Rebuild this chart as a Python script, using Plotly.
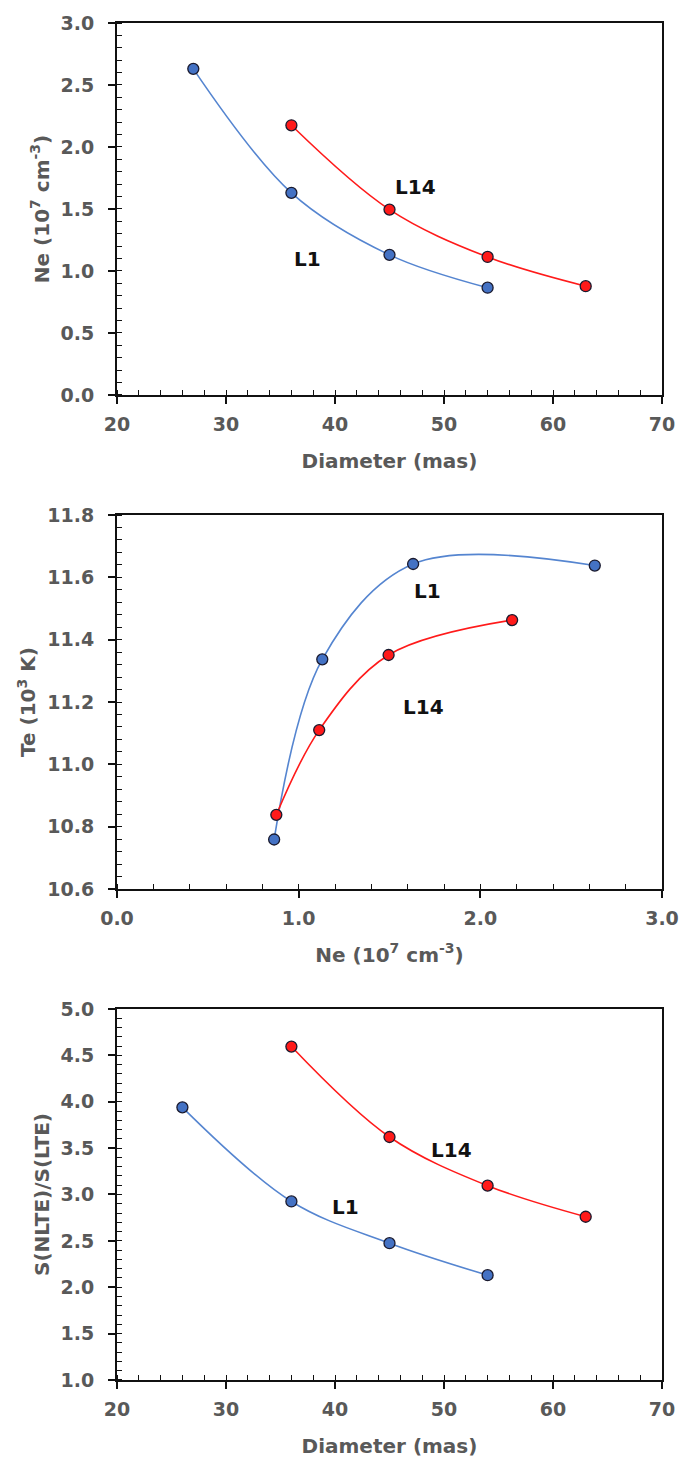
import plotly.graph_objects as go

# Panel 1: Ne vs diameter
diam_l1 = [27, 36, 45, 54]
ne_l1 = [2.63, 1.63, 1.13, 0.865]
diam_l14 = [36, 45, 54, 63]
ne_l14 = [2.175, 1.495, 1.113, 0.877]

# Panel 2: Te vs Ne (same order as ne_l1 / ne_l14)
te_l1 = [11.638, 11.643, 11.337, 10.759]
te_l14 = [11.463, 11.351, 11.110, 10.838]

# Panel 3: S(NLTE)/S(LTE) vs diameter
diam3_l1 = [26, 36, 45, 54]
s_l1 = [3.94, 2.925, 2.475, 2.13]
diam3_l14 = [36, 45, 54, 63]
s_l14 = [4.595, 3.62, 3.095, 2.76]

BLUE = "#4472C4"
BLUE_LINE = "#5585D0"
RED = "#FF1A1A"
EDGE = "#1a1a2e"
GRAY = "#595959"
FONT = "DejaVu Sans"

fig = go.Figure()

def add_series(xs, ys, xa, ya, fill, linecol):
    fig.add_trace(go.Scatter(x=xs, y=ys, xaxis=xa, yaxis=ya, mode="lines",
                             line=dict(color=linecol, width=1.6, shape="spline", smoothing=1.0),
                             hoverinfo="skip", showlegend=False))
    fig.add_trace(go.Scatter(x=xs, y=ys, xaxis=xa, yaxis=ya, mode="markers",
                             marker=dict(color=fill, size=11, line=dict(color=EDGE, width=1.3)),
                             showlegend=False))

add_series(diam_l1, ne_l1, "x", "y", BLUE, BLUE_LINE)
add_series(diam_l14, ne_l14, "x", "y", RED, RED)
add_series(ne_l1, te_l1, "x2", "y2", BLUE, BLUE_LINE)
add_series(ne_l14, te_l14, "x2", "y2", RED, RED)
add_series(diam3_l1, s_l1, "x3", "y3", BLUE, BLUE_LINE)
add_series(diam3_l14, s_l14, "x3", "y3", RED, RED)

tickfont = dict(family=FONT, size=19, color=GRAY, weight="bold")
titlefont = dict(family=FONT, size=20, color=GRAY, weight="bold")

def xax(rng, dtick, minor, title, anchor, fmt):
    return dict(range=rng, dtick=dtick, tick0=rng[0], showgrid=False, zeroline=False,
                showline=True, linecolor="#111", linewidth=2, mirror=True,
                ticks="outside", ticklen=7, tickwidth=1.5, tickcolor="#111",
                minor=dict(ticks="inside", ticklen=5, tickwidth=1.3, tickcolor="#111", dtick=minor, showgrid=False),
                tickfont=tickfont, tickformat=fmt, ticklabelstandoff=4, ticklabeloverflow="allow",
                title=dict(text=title, font=titlefont, standoff=20),
                anchor=anchor, domain=[0, 1], fixedrange=True, automargin=False)

def yax(rng, dtick, minor, title, anchor, dom, fmt):
    return dict(range=rng, dtick=dtick, tick0=rng[0], showgrid=False, zeroline=False,
                showline=True, linecolor="#111", linewidth=2, mirror=True,
                ticks="outside", ticklen=7, tickwidth=1.5, tickcolor="#111",
                minor=dict(ticks="inside", ticklen=5, tickwidth=1.3, tickcolor="#111", dtick=minor, showgrid=False),
                tickfont=tickfont, tickformat=fmt, ticklabelstandoff=10, ticklabeloverflow="allow",
                title=dict(text=title, font=titlefont, standoff=6),
                anchor=anchor, domain=dom, fixedrange=True, automargin=False)

def inner(rng, dtick, over, anchor, side):
    return dict(range=rng, dtick=dtick, tick0=rng[0], overlaying=over, anchor=anchor, side=side,
                showgrid=False, zeroline=False, showline=False, showticklabels=False,
                ticks="inside", ticklen=7, tickwidth=1.5, tickcolor="#111", fixedrange=True)

d1 = [0.7259, 1.0]
d2 = [0.3618, 0.6374]
d3 = [0.0, 0.2734]

xr13 = [20, 70]
fig.update_layout(
    xaxis=xax(xr13, 10, 2, "Diameter (mas)", "y", ".0f"),
    yaxis=yax([0, 3], 0.5, 0.1, "Ne (10<sup>7</sup> cm<sup>-3</sup>)", "x", d1, ".1f"),
    xaxis2=xax([0, 3], 1, 0.2, "Ne (10<sup>7</sup> cm<sup>-3</sup>)", "y2", ".1f"),
    yaxis2=yax([10.6, 11.8], 0.2, 0.04, "Te (10<sup>3</sup> K)", "x2", d2, ".1f"),
    xaxis3=xax(xr13, 10, 2, "Diameter (mas)", "y3", ".0f"),
    yaxis3=yax([1, 5], 0.5, 0.1, "S(NLTE)/S(LTE)", "x3", d3, ".1f"),
    xaxis4=inner(xr13, 10, "x", "y", "bottom"),
    yaxis4=inner([0, 3], 0.5, "y", "x", "left"),
    xaxis5=inner([0, 3], 1, "x2", "y2", "bottom"),
    yaxis5=inner([10.6, 11.8], 0.2, "y2", "x2", "left"),
    xaxis6=inner(xr13, 10, "x3", "y3", "bottom"),
    yaxis6=inner([1, 5], 0.5, "y3", "x3", "left"),
)

labels = [
    ("L14", 47.4, 1.676, "x", "y"),
    ("L1", 37.5, 1.098, "x", "y"),
    ("L1", 1.711, 11.557, "x2", "y2"),
    ("L14", 1.688, 11.185, "x2", "y2"),
    ("L14", 50.65, 3.482, "x3", "y3"),
    ("L1", 40.95, 2.86, "x3", "y3"),
]
for txt, x, y, xr, yr in labels:
    fig.add_annotation(text=txt, x=x, y=y, xref=xr, yref=yr, showarrow=False,
                       font=dict(family=FONT, size=20, color="#111", weight="bold"))

fig.update_layout(width=681, height=1468, margin=dict(l=117, r=19, t=23, b=88),
                  paper_bgcolor="white", plot_bgcolor="white", showlegend=False)

# remove the page's default body margin so the figure fills the window exactly
fig.write_html("out.html", config={"displayModeBar": False},
               post_script="document.body.style.margin='0';document.body.style.overflow='hidden';")
